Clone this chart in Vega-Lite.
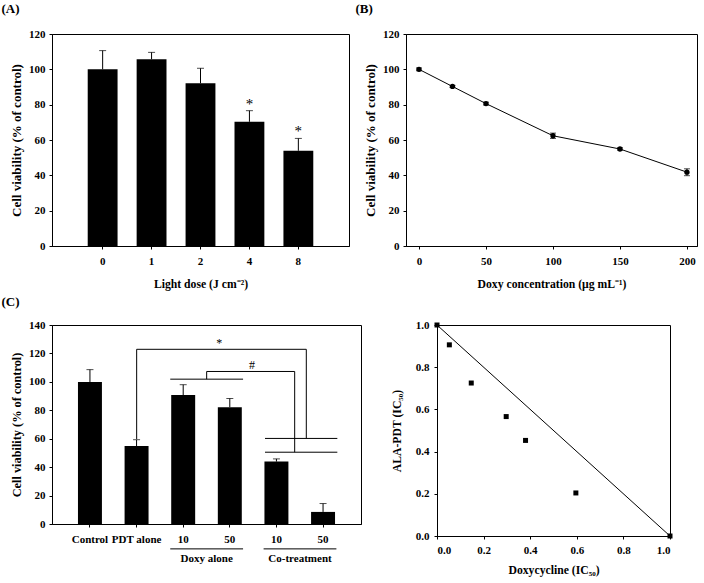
{
  "$schema": "https://vega.github.io/schema/vega-lite/v6.json",
  "padding": {"left": 1, "top": 2, "right": 2, "bottom": 2},
  "background": "white",
  "spacing": 4,
  "bounds": "full",
  "config": {
    "font": "Liberation Serif",
    "view": {"stroke": "black", "strokeWidth": 1},
    "axis": {
      "labelFont": "Liberation Serif", "labelFontWeight": "bold", "labelFontSize": 11, "labelColor": "black",
      "titleFont": "Liberation Serif", "titleFontWeight": "bold", "titleFontSize": 11.7, "titleColor": "black",
      "domainColor": "black", "tickColor": "black", "tickSize": 3, "grid": false, "labelOverlap": false
    },
    "axisX": {"labelAngle": 0, "labelPadding": 6, "titlePadding": 12},
    "axisY": {"labelPadding": 4, "titlePadding": 5},
    "title": {"font": "Liberation Serif", "fontWeight": "bold", "fontSize": 13, "anchor": "start", "color": "black"}
  },
  "vconcat": [
    {
      "bounds": "flush",
      "spacing": 57,
      "hconcat": [
        {
          "width": 297, "height": 212,
          "title": {"text": "(A)", "dx": -9, "offset": 12},
          "data": {"values": [
            {"dose": "0", "mean": 100.0, "upper": 110.6, "sig": ""},
            {"dose": "1", "mean": 105.7, "upper": 109.6, "sig": ""},
            {"dose": "2", "mean": 92.1, "upper": 100.6, "sig": ""},
            {"dose": "4", "mean": 70.3, "upper": 76.6, "sig": "*"},
            {"dose": "8", "mean": 53.9, "upper": 60.9, "sig": "*"}
          ]},
          "encoding": {
            "x": {"field": "dose", "type": "ordinal", "sort": null, "title": "Light dose (J cm⁻²)",
                  "scale": {"type": "band", "paddingInner": 0.39, "paddingOuter": 0.73}}
          },
          "layer": [
            {"mark": {"type": "rule", "color": "black", "strokeWidth": 1},
             "encoding": {"y": {"field": "mean", "type": "quantitative", "title": "Cell viability (% of control)",
                                "scale": {"domain": [0, 120], "nice": false},
                                "axis": {"values": [0, 20, 40, 60, 80, 100, 120], "titleFontSize": 13}},
                          "y2": {"field": "upper"}}},
            {"mark": {"type": "tick", "color": "black", "size": 7, "thickness": 1, "orient": "horizontal"},
             "encoding": {"y": {"field": "upper", "type": "quantitative", "title": "Cell viability (% of control)",
                                "scale": {"domain": [0, 120], "nice": false},
                                "axis": {"values": [0, 20, 40, 60, 80, 100, 120], "titleFontSize": 13}}}},
            {"mark": {"type": "bar", "color": "black"},
             "encoding": {"y": {"field": "mean", "type": "quantitative", "title": "Cell viability (% of control)",
                                "scale": {"domain": [0, 120], "nice": false},
                                "axis": {"values": [0, 20, 40, 60, 80, 100, 120], "titleFontSize": 13}}}},
            {"mark": {"type": "text", "baseline": "middle", "dy": -7, "fontSize": 15, "font": "Liberation Serif", "color": "black"},
             "encoding": {"y": {"field": "upper", "type": "quantitative", "title": "Cell viability (% of control)",
                                "scale": {"domain": [0, 120], "nice": false},
                                "axis": {"values": [0, 20, 40, 60, 80, 100, 120], "titleFontSize": 13}},
                          "text": {"field": "sig"}}}
          ]
        },
        {
          "width": 291, "height": 212,
          "title": {"text": "(B)", "dx": -9, "offset": 12},
          "data": {"values": [
            {"conc": 0, "mean": 100.0, "lo": 99.2, "hi": 100.8},
            {"conc": 25, "mean": 90.3, "lo": 89.7, "hi": 90.9},
            {"conc": 50, "mean": 80.6, "lo": 79.8, "hi": 81.4},
            {"conc": 100, "mean": 62.4, "lo": 60.9, "hi": 63.9},
            {"conc": 150, "mean": 54.9, "lo": 54.3, "hi": 55.6},
            {"conc": 200, "mean": 41.8, "lo": 39.8, "hi": 43.7}
          ]},
          "encoding": {
            "x": {"field": "conc", "type": "quantitative", "title": "Doxy concentration (μg mL⁻¹)",
                  "scale": {"domain": [-9.7, 207.5], "nice": false},
                  "axis": {"values": [0, 50, 100, 150, 200]}}
          },
          "layer": [
            {"mark": {"type": "line", "color": "black", "strokeWidth": 1},
             "encoding": {"y": {"field": "mean", "type": "quantitative", "title": "Cell viability (% of control)",
                                "scale": {"domain": [0, 120], "nice": false},
                                "axis": {"values": [0, 20, 40, 60, 80, 100, 120], "titleFontSize": 13}}}},
            {"mark": {"type": "rule", "color": "black", "strokeWidth": 1},
             "encoding": {"y": {"field": "lo", "type": "quantitative", "title": "Cell viability (% of control)",
                                "scale": {"domain": [0, 120], "nice": false},
                                "axis": {"values": [0, 20, 40, 60, 80, 100, 120], "titleFontSize": 13}},
                          "y2": {"field": "hi"}}},
            {"mark": {"type": "tick", "color": "black", "size": 6, "thickness": 1, "orient": "horizontal"},
             "encoding": {"y": {"field": "lo", "type": "quantitative", "title": "Cell viability (% of control)",
                                "scale": {"domain": [0, 120], "nice": false},
                                "axis": {"values": [0, 20, 40, 60, 80, 100, 120], "titleFontSize": 13}}}},
            {"mark": {"type": "tick", "color": "black", "size": 6, "thickness": 1, "orient": "horizontal"},
             "encoding": {"y": {"field": "hi", "type": "quantitative", "title": "Cell viability (% of control)",
                                "scale": {"domain": [0, 120], "nice": false},
                                "axis": {"values": [0, 20, 40, 60, 80, 100, 120], "titleFontSize": 13}}}},
            {"mark": {"type": "point", "shape": "circle", "filled": true, "color": "black", "size": 28, "opacity": 1},
             "encoding": {"y": {"field": "mean", "type": "quantitative", "title": "Cell viability (% of control)",
                                "scale": {"domain": [0, 120], "nice": false},
                                "axis": {"values": [0, 20, 40, 60, 80, 100, 120], "titleFontSize": 13}}}}
          ]
        }
      ]
    },
    {
      "bounds": "flush",
      "spacing": 76,
      "hconcat": [
        {
          "width": 309, "height": 199,
          "title": {"text": "(C)", "dx": -9, "offset": 10},
          "resolve": {"scale": {"x": "independent"}, "axis": {"x": "independent"}},
          "layer": [
            {
              "data": {"values": [
                {"cond": "Control", "mean": 99.9, "upper": 108.6},
                {"cond": "PDT alone", "mean": 54.8, "upper": 59.3},
                {"cond": "Doxy 10", "mean": 90.7, "upper": 98.0},
                {"cond": "Doxy 50", "mean": 82.2, "upper": 88.3},
                {"cond": "Co 10", "mean": 43.9, "upper": 45.8},
                {"cond": "Co 50", "mean": 8.5, "upper": 14.4}
              ]},
              "encoding": {
                "x": {"field": "cond", "type": "ordinal", "sort": null, "title": null,
                      "scale": {"type": "band", "paddingInner": 0.486, "paddingOuter": 0.557},
                      "axis": {"labelExpr": "replace(replace(datum.label, 'Doxy ', ''), 'Co ', '')"}}
              },
              "layer": [
                {"mark": {"type": "rule", "color": "black", "strokeWidth": 1},
                 "encoding": {"y": {"field": "mean", "type": "quantitative", "title": "Cell viability (% of control)",
                                    "scale": {"domain": [0, 140], "nice": false},
                                    "axis": {"values": [0, 20, 40, 60, 80, 100, 120, 140], "titleFontSize": 12.3}},
                              "y2": {"field": "upper"}}},
                {"mark": {"type": "tick", "color": "black", "size": 7, "thickness": 1, "orient": "horizontal"},
                 "encoding": {"y": {"field": "upper", "type": "quantitative", "title": "Cell viability (% of control)",
                                    "scale": {"domain": [0, 140], "nice": false},
                                    "axis": {"values": [0, 20, 40, 60, 80, 100, 120, 140], "titleFontSize": 12.3}}}},
                {"mark": {"type": "bar", "color": "black"},
                 "encoding": {"y": {"field": "mean", "type": "quantitative", "title": "Cell viability (% of control)",
                                    "scale": {"domain": [0, 140], "nice": false},
                                    "axis": {"values": [0, 20, 40, 60, 80, 100, 120, 140], "titleFontSize": 12.3}}}}
              ]
            },
            {
              "data": {"values": [
                {"x": 1, "x2": 1, "y": 59.8, "y2": 122.9},
                {"x": 1, "x2": 4.635, "y": 122.9, "y2": 122.9},
                {"x": 4.635, "x2": 4.635, "y": 122.9, "y2": 60.2},
                {"x": 3.75, "x2": 5.3, "y": 60.2, "y2": 60.2},
                {"x": 1.72, "x2": 3.28, "y": 101.9, "y2": 101.9},
                {"x": 2.5, "x2": 2.5, "y": 101.9, "y2": 107.3},
                {"x": 2.5, "x2": 4.386, "y": 107.3, "y2": 107.3},
                {"x": 4.386, "x2": 4.386, "y": 107.3, "y2": 50.5},
                {"x": 3.75, "x2": 5.3, "y": 50.5, "y2": 50.5},
                {"x": 1.72, "x2": 3.28, "y": -17.5, "y2": -17.5},
                {"x": 3.72, "x2": 5.28, "y": -17.5, "y2": -17.5}
              ]},
              "mark": {"type": "rule", "color": "black", "strokeWidth": 1},
              "encoding": {
                "x": {"field": "x", "type": "quantitative", "scale": {"domain": [-0.814, 5.807], "nice": false, "zero": false}, "axis": null},
                "x2": {"field": "x2"},
                "y": {"field": "y", "type": "quantitative", "title": "Cell viability (% of control)",
                      "scale": {"domain": [0, 140], "nice": false},
                      "axis": {"values": [0, 20, 40, 60, 80, 100, 120, 140], "titleFontSize": 12.3}},
                "y2": {"field": "y2"}
              }
            },
            {
              "data": {"values": [
                {"x": 2.77, "y": 127.3, "label": "*"},
                {"x": 3.47, "y": 112.0, "label": "#"}
              ]},
              "mark": {"type": "text", "baseline": "middle", "fontSize": 12, "font": "Liberation Serif", "color": "black"},
              "encoding": {
                "x": {"field": "x", "type": "quantitative", "scale": {"domain": [-0.814, 5.807], "nice": false, "zero": false}, "axis": null},
                "y": {"field": "y", "type": "quantitative", "title": "Cell viability (% of control)",
                      "scale": {"domain": [0, 140], "nice": false},
                      "axis": {"values": [0, 20, 40, 60, 80, 100, 120, 140], "titleFontSize": 12.3}},
                "text": {"field": "label"}
              }
            },
            {
              "data": {"values": [
                {"x": 2.5, "y": -27.0, "label": "Doxy alone"},
                {"x": 4.5, "y": -27.0, "label": "Co-treatment"}
              ]},
              "mark": {"type": "text", "baseline": "alphabetic", "fontSize": 11, "fontWeight": "bold", "font": "Liberation Serif", "color": "black"},
              "encoding": {
                "x": {"field": "x", "type": "quantitative", "scale": {"domain": [-0.814, 5.807], "nice": false, "zero": false}, "axis": null},
                "y": {"field": "y", "type": "quantitative", "title": "Cell viability (% of control)",
                      "scale": {"domain": [0, 140], "nice": false},
                      "axis": {"values": [0, 20, 40, 60, 80, 100, 120, 140], "titleFontSize": 12.3}},
                "text": {"field": "label"}
              }
            }
          ]
        },
        {
          "width": 233, "height": 211,
          "title": {"text": " ", "dx": -9, "offset": 10},
          "encoding": {
            "x": {"field": "dox", "type": "quantitative", "title": "Doxycycline (IC₅₀)",
                  "scale": {"domain": [0, 1], "nice": false},
                  "axis": {"values": [0, 0.2, 0.4, 0.6, 0.8, 1.0], "format": ".1f", "labelPadding": 5, "titlePadding": 9}},
            "y": {"field": "pdt", "type": "quantitative", "title": "ALA-PDT (IC₅₀)",
                  "scale": {"domain": [0, 1], "nice": false},
                  "axis": {"values": [0, 0.2, 0.4, 0.6, 0.8, 1.0], "format": ".1f", "labelPadding": 5, "titlePadding": 13}}
          },
          "layer": [
            {"data": {"values": [{"dox": 0, "pdt": 1}, {"dox": 1, "pdt": 0}]},
             "mark": {"type": "line", "color": "black", "strokeWidth": 1}},
            {"data": {"values": [
               {"dox": 0.0, "pdt": 1.0},
               {"dox": 0.053, "pdt": 0.906},
               {"dox": 0.147, "pdt": 0.725},
               {"dox": 0.297, "pdt": 0.566},
               {"dox": 0.38, "pdt": 0.453},
               {"dox": 0.596, "pdt": 0.204},
               {"dox": 1.0, "pdt": 0.0}
             ]},
             "mark": {"type": "point", "shape": "square", "filled": true, "color": "black", "size": 25, "opacity": 1}}
          ]
        }
      ]
    }
  ]
}
